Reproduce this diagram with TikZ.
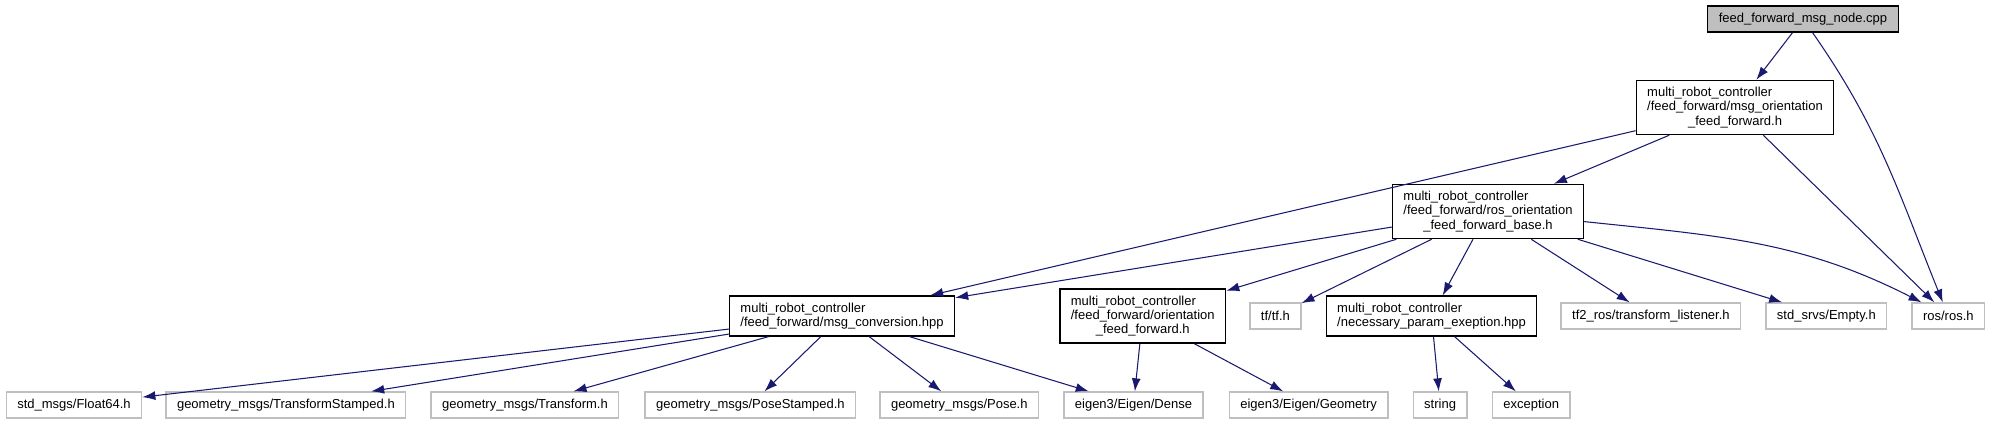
\documentclass[tikz,border=0pt]{standalone}
\usepackage{fontspec}
\setmainfont{Liberation Sans}
\usepackage{tikz}
\usetikzlibrary{shapes, arrows.meta, positioning}
\usepackage{xcolor}
\definecolor{midnight}{RGB}{25,25,112}
\definecolor{grey75}{RGB}{191,191,191}
\tikzstyle{block} = [rectangle, draw=black, fill=white, line width=0.75pt,
    align=left, inner xsep=0.22cm, inner ysep=3.8pt, minimum height=0.52cm,
    font=\fontsize{7.4}{8.2}\selectfont]
\tikzstyle{main} = [block, fill=grey75]
\tikzstyle{sys} = [block, draw=grey75]
\tikzstyle{line} = [draw, midnight, line width=0.6pt, -{Latex[length=0.26cm, width=0.18cm]}]

\begin{document}
\begin{tikzpicture}[x=0.02cm, y=-0.02cm, node distance=0.48cm]
        \useasboundingbox (0,0) rectangle (1995,424);

        % Nodes
        \node [main] (root) at (1803,19) {feed\_forward\_msg\_node.cpp};
        \node [block] (msgff) at (1735,107.5) {multi\_robot\_controller\\/feed\_forward/msg\_orientation\\\hfil\_feed\_forward.h};
        \node [block] (base) at (1488,211.5) {multi\_robot\_controller\\/feed\_forward/ros\_orientation\\\hfil\_feed\_forward\_base.h};

        \node [block] (msgconv) at (842,316) {multi\_robot\_controller\\/feed\_forward/msg\_conversion.hpp};
        \node [block, right=2.08cm of msgconv] (orientff) {multi\_robot\_controller\\/feed\_forward/orientation\\\hfil\_feed\_forward.h};
        \node [sys, right=0.46cm of orientff] (tf) {tf/tf.h};
        \node [block, right=of tf] (necessary) {multi\_robot\_controller\\/necessary\_param\_exeption.hpp};
        \node [sys, right=0.46cm of necessary] (tftwo) {tf2\_ros/transform\_listener.h};
        \node [sys, right=of tftwo] (empty) {std\_srvs/Empty.h};
        \node [sys, right=of empty] (ros) {ros/ros.h};

        \node [sys] (float64) at (74,405) {std\_msgs/Float64.h};
        \node [sys, right=0.46cm of float64] (tfstamped) {geometry\_msgs/TransformStamped.h};
        \node [sys, right=of tfstamped] (transform) {geometry\_msgs/Transform.h};
        \node [sys, right=0.5cm of transform] (posestamped) {geometry\_msgs/PoseStamped.h};
        \node [sys, right=0.46cm of posestamped] (pose) {geometry\_msgs/Pose.h};
        \node [sys, right=of pose] (dense) {eigen3/Eigen/Dense};
        \node [sys, right=0.5cm of dense] (geometry) {eigen3/Eigen/Geometry};
        \node [sys, right=of geometry] (string) {string};
        \node [sys, right=of string] (exception) {exception};

        % Lines
        \path [line] (root) -- (msgff);
        \path [line] (root) to [out=-55, in=112] (ros);
        \path [line] (msgff) -- (msgconv);
        \path [line] (msgff) -- (base);
        \path [line] (msgff) -- (ros);
        \path [line] (base) -- (msgconv);
        \path [line] (base) -- (orientff);
        \path [line] (base) -- (tf);
        \path [line] (base) -- (necessary);
        \path [line] (base) -- (tftwo);
        \path [line] (base) -- (empty);
        \path [line] (base) to [out=-6, in=153] (ros);
        \path [line] (msgconv) -- (float64);
        \path [line] (msgconv) -- (tfstamped);
        \path [line] (msgconv) -- (transform);
        \path [line] (msgconv) -- (posestamped);
        \path [line] (msgconv) -- (pose);
        \path [line] (msgconv) -- (dense);
        \path [line] (orientff) -- (dense);
        \path [line] (orientff) -- (geometry);
        \path [line] (necessary) -- (string);
        \path [line] (necessary) -- (exception);
    \end{tikzpicture}
\end{document}
